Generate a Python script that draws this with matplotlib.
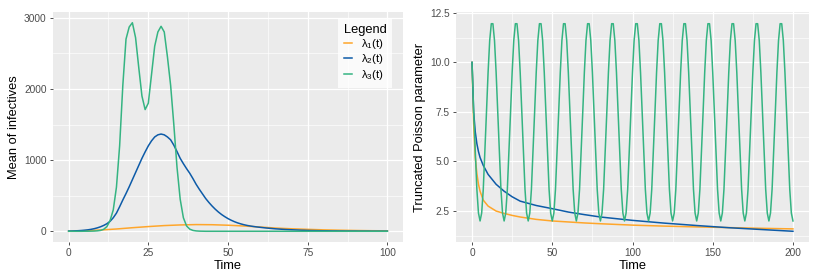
import numpy as np
import matplotlib
matplotlib.use('Agg')
import matplotlib.pyplot as plt
from matplotlib.ticker import MultipleLocator

plt.rcParams['font.family'] = ['Liberation Sans', 'DejaVu Sans']
plt.rcParams['mathtext.fontset'] = 'custom'
plt.rcParams['mathtext.rm'] = 'Liberation Sans'
plt.rcParams['mathtext.it'] = 'Liberation Sans:italic'

labels = [r'$\mathrm{\lambda_1(t)}$', r'$\mathrm{\lambda_2(t)}$', r'$\mathrm{\lambda_3(t)}$']
colors = ['#FFA62B', '#0D5BA8', '#35B482']

# ---- left panel: mean of infectives ----
t_orange_l = [0, 5, 10, 15, 20, 25, 30, 35, 40, 45, 50, 55, 60, 65, 70, 75, 80, 85, 90, 95, 100]
orange_l = [0, 8, 18, 32, 50, 66, 80, 89, 94, 92, 85, 74, 60, 45, 35, 27, 20, 15, 11, 8, 6]

t_l = np.arange(0, 101)
blue_l = [3, 4, 6, 8, 11, 15, 20, 27, 36, 48,
          63, 82, 106, 140, 190, 255, 345, 440, 530, 625,
          725, 825, 925, 1025, 1115, 1200, 1270, 1325, 1355, 1366,
          1355, 1325, 1285, 1210, 1120, 1025, 950, 880, 815, 740,
          660, 590, 525, 460, 405, 355, 310, 270, 235, 205,
          178, 155, 135, 118, 104, 92, 82, 74, 67, 61,
          56, 51, 46, 42, 38, 34, 31, 28, 25, 23,
          21, 19, 17, 15, 14, 12, 11, 10, 9, 8,
          7, 7, 6, 5, 5, 4, 4, 3, 3, 3,
          3, 2, 2, 2, 2, 1, 1, 1, 1, 1, 1]
green_l = [0, 0, 0, 0, 0, 1, 1, 2, 3, 6,
           12, 28, 65, 150, 300, 620, 1200, 2050, 2700, 2870,
           2930, 2720, 2300, 1900, 1710, 1800, 2200, 2600, 2800, 2880,
           2800, 2450, 2050, 1500, 900, 450, 190, 75, 30, 12,
           5, 2, 1, 0, 0, 0, 0, 0, 0, 0,
           0, 0, 0, 0, 0, 0, 0, 0, 0, 0,
           0, 0, 0, 0, 0, 0, 0, 0, 0, 0,
           0, 0, 0, 0, 0, 0, 0, 0, 0, 0,
           0, 0, 0, 0, 0, 0, 0, 0, 0, 0,
           0, 0, 0, 0, 0, 0, 0, 0, 0, 0, 0]

# ---- right panel: truncated Poisson parameter ----
t_decay = [0, 1, 2, 3, 4, 5, 7, 10, 15, 20, 25, 30, 40, 50, 60, 70, 80, 100, 120, 140, 160, 180, 200]
orange_r = [10, 6.9, 5.2, 4.4, 3.85, 3.5, 3.05, 2.75, 2.5, 2.38, 2.28, 2.2, 2.08, 2.0, 1.95, 1.9,
            1.86, 1.79, 1.74, 1.70, 1.665, 1.63, 1.60]
blue_r = [10, 7.5, 6.5, 5.9, 5.5, 5.2, 4.8, 4.35, 3.85, 3.5, 3.22, 3.0, 2.78, 2.62, 2.45, 2.32,
          2.2, 2.03, 1.89, 1.77, 1.66, 1.57, 1.48]

t_r = np.arange(0, 201)
green_r = [
    10.0, 7.5, 5.5, 3.6, 2.4, 2.0, 2.4, 3.6, 5.5, 7.5, 9.5, 11.1, 11.95, 11.95, 11.1,
    9.5, 7.5, 5.5, 3.6, 2.4, 2.0, 2.4, 3.6, 5.5, 7.5, 9.5, 11.1, 11.95, 11.95, 11.1,
    9.5, 7.5, 5.5, 3.6, 2.4, 2.0, 2.4, 3.6, 5.5, 7.5, 9.5, 11.1, 11.95, 11.95, 11.1,
    9.5, 7.5, 5.5, 3.6, 2.4, 2.0, 2.4, 3.6, 5.5, 7.5, 9.5, 11.1, 11.95, 11.95, 11.1,
    9.5, 7.5, 5.5, 3.6, 2.4, 2.0, 2.4, 3.6, 5.5, 7.5, 9.5, 11.1, 11.95, 11.95, 11.1,
    9.5, 7.5, 5.5, 3.6, 2.4, 2.0, 2.4, 3.6, 5.5, 7.5, 9.5, 11.1, 11.95, 11.95, 11.1,
    9.5, 7.5, 5.5, 3.6, 2.4, 2.0, 2.4, 3.6, 5.5, 7.5, 9.5, 11.1, 11.95, 11.95, 11.1,
    9.5, 7.5, 5.5, 3.6, 2.4, 2.0, 2.4, 3.6, 5.5, 7.5, 9.5, 11.1, 11.95, 11.95, 11.1,
    9.5, 7.5, 5.5, 3.6, 2.4, 2.0, 2.4, 3.6, 5.5, 7.5, 9.5, 11.1, 11.95, 11.95, 11.1,
    9.5, 7.5, 5.5, 3.6, 2.4, 2.0, 2.4, 3.6, 5.5, 7.5, 9.5, 11.1, 11.95, 11.95, 11.1,
    9.5, 7.5, 5.5, 3.6, 2.4, 2.0, 2.4, 3.6, 5.5, 7.5, 9.5, 11.1, 11.95, 11.95, 11.1,
    9.5, 7.5, 5.5, 3.6, 2.4, 2.0, 2.4, 3.6, 5.5, 7.5, 9.5, 11.1, 11.95, 11.95, 11.1,
    9.5, 7.5, 5.5, 3.6, 2.4, 2.0, 2.4, 3.6, 5.5, 7.5, 9.5, 11.1, 11.95, 11.95, 11.1,
    9.5, 7.5, 5.5, 3.6, 2.4, 2.0]


def gg_style(ax, xmajor, ymajor):
    ax.set_facecolor('#EBEBEB')
    for s in ax.spines.values():
        s.set_visible(False)
    ax.xaxis.set_major_locator(MultipleLocator(xmajor))
    ax.xaxis.set_minor_locator(MultipleLocator(xmajor / 2))
    ax.yaxis.set_major_locator(MultipleLocator(ymajor))
    ax.yaxis.set_minor_locator(MultipleLocator(ymajor / 2))
    ax.grid(which='major', color='white', lw=0.9)
    ax.grid(which='minor', color='white', lw=0.45)
    ax.set_axisbelow(True)
    ax.tick_params(which='major', length=2.5, width=0.6, color='#333333',
                   labelsize=7.3, labelcolor='#4D4D4D', pad=2)
    ax.tick_params(which='minor', length=0)
    ax.set_xlabel('Time', fontsize=9.3, labelpad=1.5)


fig = plt.figure(figsize=(8.16, 2.76), dpi=100)
W, H = 816, 276
ax1 = fig.add_axes([52.7 / W, 1 - 241.7 / H, 350.6 / W, 229.4 / H])
ax2 = fig.add_axes([456 / W, 1 - 241.7 / H, 353 / W, 229.4 / H])

ax1.plot(t_orange_l, orange_l, color=colors[0], lw=1.1, label=labels[0])
ax1.plot(t_l, blue_l, color=colors[1], lw=1.1, label=labels[1])
ax1.plot(t_l, green_l, color=colors[2], lw=1.1, label=labels[2])
gg_style(ax1, 25, 1000)
ax1.set_xlim(-5, 105)
ax1.set_ylim(-146.5, 3076.5)
ax1.set_ylabel('Mean of infectives', fontsize=9.3, labelpad=3)

leg = ax1.legend(title='Legend', loc='upper right', bbox_to_anchor=(0.968, 0.975),
                 fontsize=8.2, title_fontsize=9.3, frameon=True, fancybox=False,
                 handlelength=0.7, handletextpad=0.8, labelspacing=0.12,
                 borderpad=0.5, borderaxespad=0)
leg.get_frame().set_facecolor('white')
leg.get_frame().set_edgecolor('none')
leg._legend_box.align = 'left'

ax2.plot(t_decay, orange_r, color=colors[0], lw=1.1)
ax2.plot(t_decay, blue_r, color=colors[1], lw=1.1)
ax2.plot(t_r, green_r, color=colors[2], lw=1.1)
gg_style(ax2, 50, 2.5)
ax2.set_xlim(-10, 210)
ax2.set_ylim(0.954, 12.526)
ax2.yaxis.set_major_formatter(matplotlib.ticker.FormatStrFormatter('%.1f'))
ax2.set_ylabel('Truncated Poisson parameter', fontsize=9.3, labelpad=3)

fig.savefig('out.png', dpi=100)
